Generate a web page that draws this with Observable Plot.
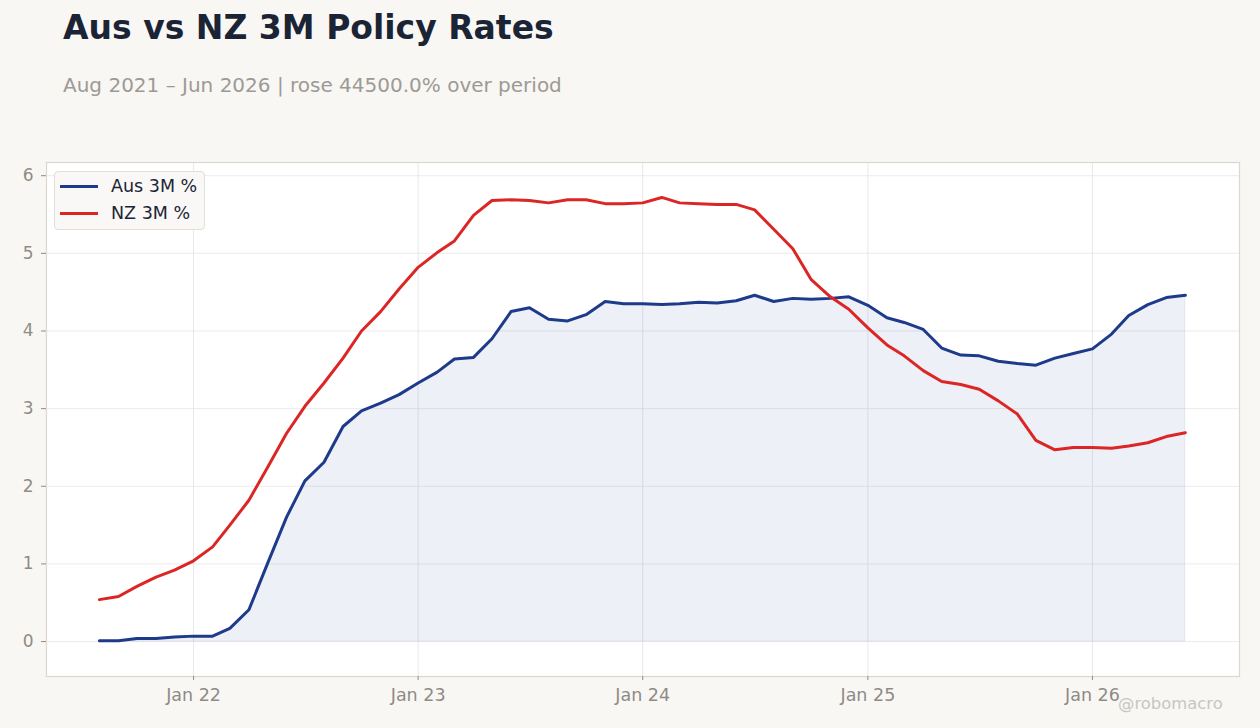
<!DOCTYPE html>
<html>
<head>
<meta charset="utf-8">
<script src="https://cdn.jsdelivr.net/npm/d3@7"></script>
<script src="https://cdn.jsdelivr.net/npm/@observablehq/plot@0.6"></script>
<style>
  html, body { margin: 0; padding: 0; background: #f8f7f4; }
  body { width: 1260px; height: 728px; position: relative; overflow: hidden; font-family: "DejaVu Sans", sans-serif; }
  #title { position: absolute; left: 63px; top: 8px; font-size: 33px; font-weight: bold; color: #1b2434; white-space: nowrap; }
  #subtitle { position: absolute; left: 63px; top: 73px; font-size: 20px; color: #9d9a95; white-space: nowrap; }
  #chart { position: absolute; left: 0; top: 150px; }
  #legend { position: absolute; left: 54px; top: 171px; width: 151px; height: 59px; background: #f9f8f6; border: 1px solid #e3ded6; border-radius: 4px; box-sizing: border-box; }
  .item { position: absolute; left: 5px; height: 22px; display: flex; align-items: center; font-size: 17.5px; color: #1b2434; white-space: nowrap; }
  .swatch { width: 38px; height: 3px; margin-right: 13px; }
  #credit { position: absolute; left: 1118px; top: 694px; font-size: 16.4px; color: #c9c6c1; white-space: nowrap; }
</style>
</head>
<body>
<div id="title">Aus vs NZ 3M Policy Rates</div>
<div id="subtitle">Aug 2021 – Jun 2026 | rose 44500.0% over period</div>
<div id="chart"></div>
<div id="legend"></div>
<div id="credit">@robomacro</div>
<script>
const startMonth = "2021-08";
const ausRate = [
  0.01, 0.01, 0.04, 0.04, 0.06,
  0.07, 0.07, 0.17, 0.41, 1.00, 1.60, 2.07, 2.31, 2.77, 2.97, 3.07, 3.18,
  3.33, 3.47, 3.64, 3.66, 3.90, 4.25, 4.30, 4.15, 4.13, 4.21, 4.38, 4.35,
  4.35, 4.34, 4.35, 4.37, 4.36, 4.39, 4.46, 4.38, 4.42, 4.41, 4.42, 4.44,
  4.33, 4.17, 4.11, 4.02, 3.78, 3.69, 3.68, 3.61, 3.58, 3.56, 3.65, 3.71,
  3.77, 3.96, 4.20, 4.34, 4.43, 4.46
];
const nzRate = [
  0.54, 0.58, 0.71, 0.83, 0.92,
  1.04, 1.22, 1.50, 1.82, 2.24, 2.68, 3.03, 3.33, 3.65, 4.00, 4.25, 4.54,
  4.82, 5.01, 5.16, 5.49, 5.68, 5.69, 5.68, 5.65, 5.69, 5.69, 5.64, 5.64,
  5.65, 5.72, 5.65, 5.64, 5.63, 5.63, 5.56, 5.31, 5.06, 4.66, 4.44, 4.28,
  4.04, 3.82, 3.68, 3.49, 3.35, 3.31, 3.25, 3.10, 2.93, 2.59, 2.47, 2.50,
  2.50, 2.49, 2.52, 2.56, 2.64, 2.69
];
const seriesNames = ["Aus 3M %", "NZ 3M %"];
const seriesColors = ["#1e3a8a", "#dc2626"];
const xTicks = ["2022-01-01", "2023-01-01", "2024-01-01", "2025-01-01", "2026-01-01"];
const yTicks = [0, 1, 2, 3, 4, 5, 6];

const start = new Date(startMonth + "-01T00:00:00Z");
const dates = ausRate.map((_, i) => d3.utcMonth.offset(start, i));
const rows = dates.map((d, i) => ({date: d, aus: ausRate[i], nz: nzRate[i]}));
const tickDates = xTicks.map(s => new Date(s + "T00:00:00Z"));

const chart = Plot.plot({
  width: 1260,
  height: 578,
  marginTop: 12,
  marginBottom: 52,
  marginLeft: 46,
  marginRight: 21,
  style: {fontFamily: "DejaVu Sans, sans-serif", fontSize: "17px", color: "#8f8b85", background: "transparent"},
  x: {type: "utc", domain: [new Date("2021-05-07T00:00:00Z"), new Date("2026-08-28T00:00:00Z")], label: null},
  y: {domain: [-0.45, 6.17], label: null},
  marks: [
    Plot.frame({fill: "white", stroke: "#ddd8ce", strokeWidth: 1.2}),
    Plot.gridX(tickDates, {stroke: "#d9d9de", strokeOpacity: 0.6}),
    Plot.gridY(yTicks, {stroke: "#e6e6e8", strokeOpacity: 0.8}),
    Plot.areaY(rows, {x: "date", y: "aus", fill: seriesColors[0], fillOpacity: 0.08, stroke: seriesColors[0], strokeOpacity: 0.08}),
    Plot.lineY(rows, {x: "date", y: "aus", stroke: seriesColors[0], strokeWidth: 3}),
    Plot.lineY(rows, {x: "date", y: "nz", stroke: seriesColors[1], strokeWidth: 3}),
    Plot.axisX({ticks: tickDates, tickFormat: d3.utcFormat("%b %y"), tickSize: 4, tickPadding: 8, stroke: "#8f8b85", fill: "#8f8b85", fontSize: 17.5, label: null}),
    Plot.axisY({ticks: yTicks, tickFormat: d3.format("d"), tickSize: 5, tickPadding: 8, stroke: "#8f8b85", fill: "#8f8b85", fontSize: 17, label: null})
  ]
});
document.getElementById("chart").appendChild(chart);

const legend = document.getElementById("legend");
seriesNames.forEach((name, i) => {
  const item = document.createElement("div");
  item.className = "item";
  item.style.top = (3 + i * 27) + "px";
  const sw = document.createElement("div");
  sw.className = "swatch";
  sw.style.background = seriesColors[i];
  item.appendChild(sw);
  item.appendChild(document.createTextNode(name));
  legend.appendChild(item);
});
</script>
</body>
</html>
